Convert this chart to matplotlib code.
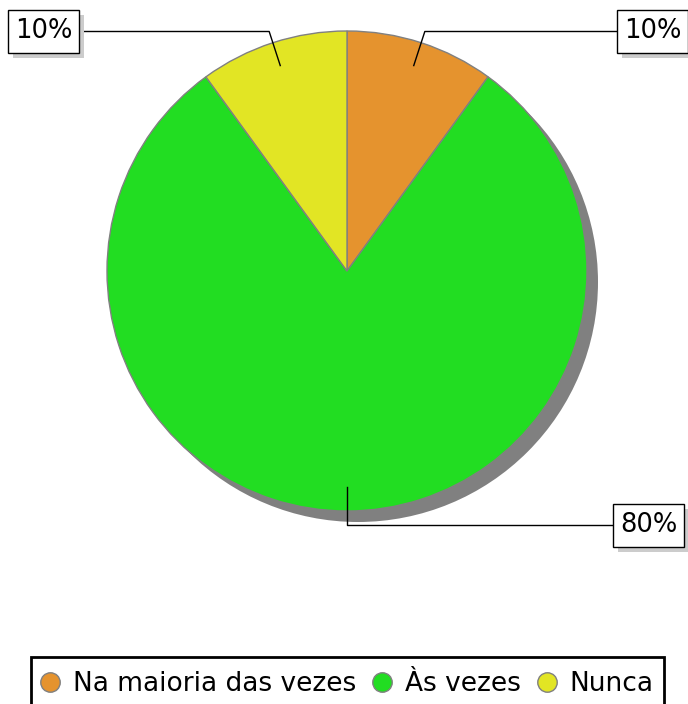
import numpy as np
import matplotlib
matplotlib.use("Agg")
import matplotlib.pyplot as plt
from matplotlib.lines import Line2D
from matplotlib.patches import Circle, Rectangle

categories = ["Na maioria das vezes", "Às vezes", "Nunca"]
values = [10, 80, 10]
colors = ["#E5932E", "#22DD22", "#E2E524"]

W, H = 688, 704
fig = plt.figure(figsize=(W / 100, H / 100), dpi=100)
ax = fig.add_axes([0, 0, 1, 1])

cx, cy, R = 347, H - 271, 240

# drop shadow behind the pie
ax.add_patch(Circle((cx + 11, cy - 11), R, facecolor="#808080", edgecolor="none", zorder=1))

wedges, _ = ax.pie(values, colors=colors, startangle=90, counterclock=False,
                   center=(cx, cy), radius=R, frame=True,
                   wedgeprops=dict(edgecolor="#808080", linewidth=1, zorder=2))
ax.set_xlim(0, W)
ax.set_ylim(0, H)
ax.set_aspect("equal")
ax.axis("off")

# label boxes: (box anchor x, box center y, side) -- anchor is the edge the leader meets
label_pos = [(617, H - 31.5, "right"), (613, H - 525, "right"), (79, H - 31.5, "left")]
PADX, PADY = 7, 8.5

renderer = fig.canvas.get_renderer()
total = sum(values)
for w, v, (lx, ly, side) in zip(wedges, values, label_pos):
    mid = np.deg2rad((w.theta1 + w.theta2) / 2)
    x0, y0 = cx + 0.9 * R * np.cos(mid), cy + 0.9 * R * np.sin(mid)
    x1 = cx + (ly - cy) / np.tan(mid) if abs(np.cos(mid)) > 0.05 else cx
    ax.plot([x0, x1, lx], [y0, ly, ly], color="black", lw=1, zorder=3)
    txt = f"{v / total * 100:.0f}%"
    ha = "left" if side == "right" else "right"
    tx = lx + PADX if side == "right" else lx - PADX
    t = ax.text(tx, ly, txt, ha=ha, va="center", fontsize=18.5, color="black", zorder=6)
    bb = t.get_window_extent(renderer).transformed(ax.transData.inverted())
    bw, bh = bb.width + 2 * PADX, bb.height + 2 * PADY
    bx, by = bb.x0 - PADX, ly - bh / 2
    ax.add_patch(Rectangle((bx + 5, by - 5), bw, bh, facecolor="#CCCCCC",
                           edgecolor="none", zorder=4))
    ax.add_patch(Rectangle((bx, by), bw, bh, facecolor="white",
                           edgecolor="black", linewidth=1, zorder=5))

handles = [Line2D([], [], marker="o", linestyle="none", markersize=14,
                  markerfacecolor=c, markeredgecolor="#808080", markeredgewidth=1)
           for c in colors]
leg = fig.legend(handles, categories, loc="upper left", ncol=3,
                 bbox_to_anchor=(29 / W, 1 - 663 / H), fontsize=19,
                 frameon=False, handletextpad=0.35, columnspacing=0.5,
                 handlelength=1.0, borderpad=0.3, borderaxespad=0)

# legend frame: runs off the bottom edge of the figure
fig.canvas.draw()
lb = leg.get_window_extent(fig.canvas.get_renderer())
ax.add_patch(Rectangle((31, -20), lb.x1 + 3 - 31, (H - 657) + 20, facecolor="none",
                       edgecolor="black", linewidth=2, zorder=7, clip_on=False))

fig.savefig("out.png", dpi=100)
